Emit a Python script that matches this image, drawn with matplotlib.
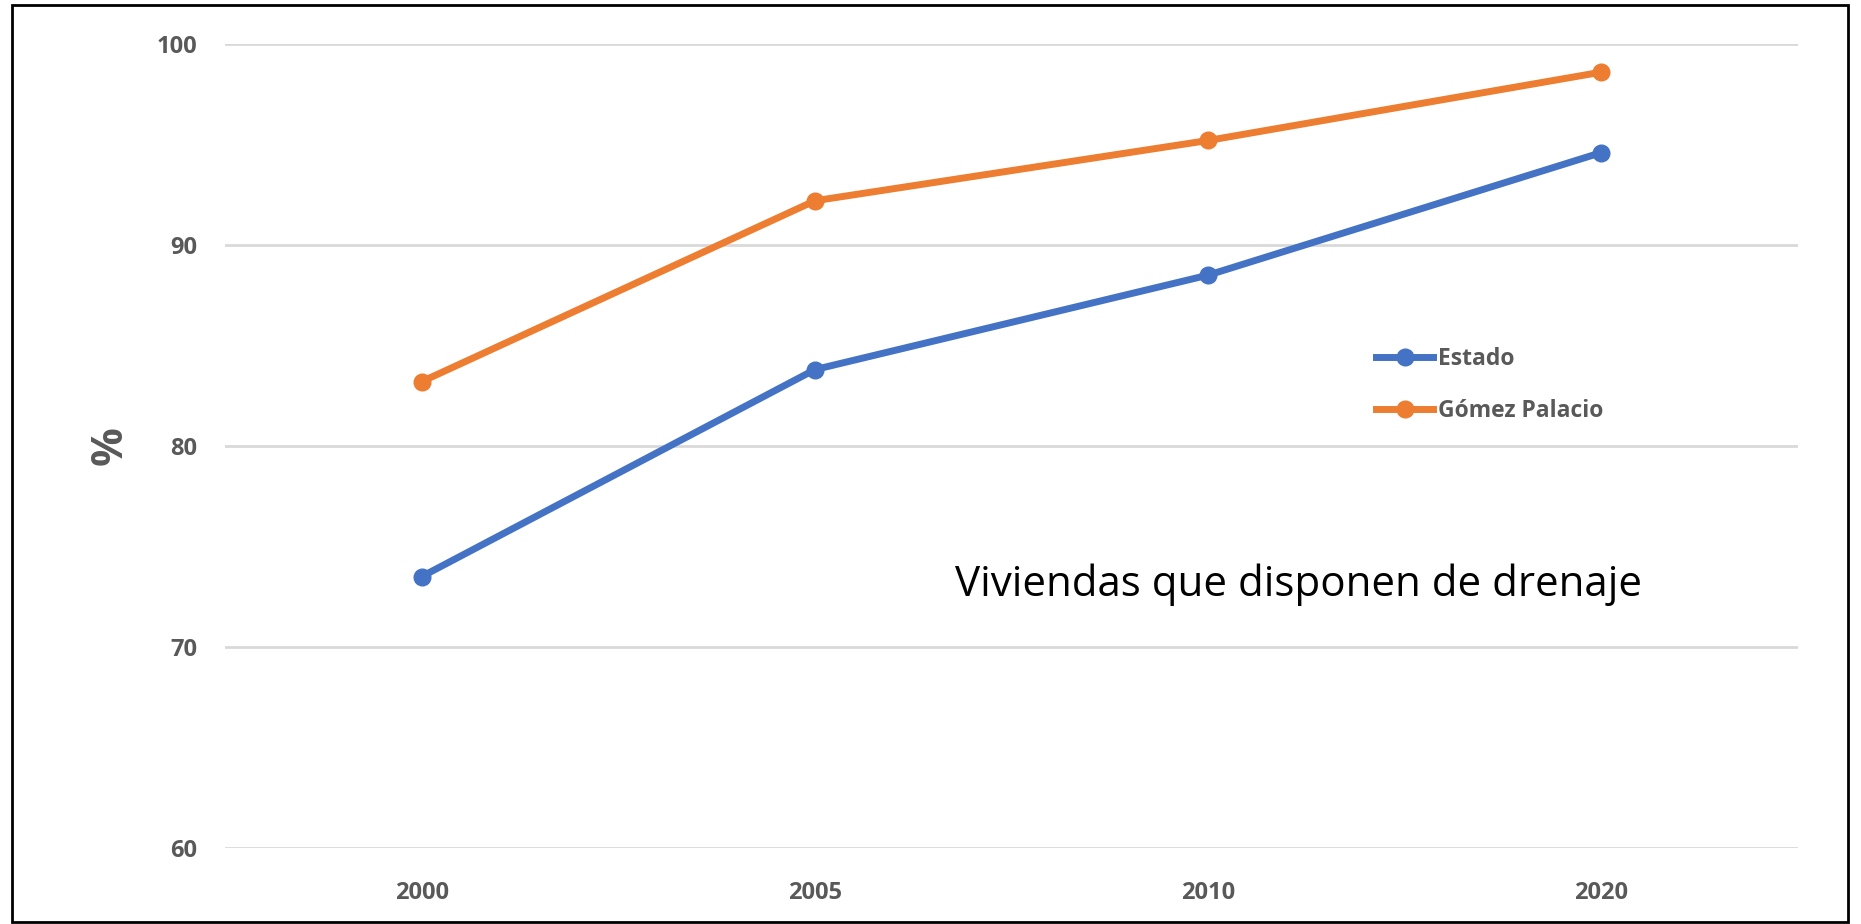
import matplotlib.pyplot as plt
from matplotlib.patches import Rectangle

# datos
years = ["2000", "2005", "2010", "2020"]
estado = [73.5, 83.8, 88.5, 94.6]
gomez_palacio = [83.2, 92.2, 95.2, 98.6]
y_ticks = [60, 70, 80, 90, 100]

azul = "#4472C4"
naranja = "#ED7D31"
gris_txt = "#595959"

plt.rcParams["font.family"] = ["Open Sans", "DejaVu Sans"]

fig = plt.figure(figsize=(18.61, 9.24), dpi=100)
ax = fig.add_axes([0.1209, 0.0823, 0.8453, 0.8701])

x = range(len(years))
ax.plot(x, estado, color=azul, lw=5, marker="o", ms=12, label="Estado", zorder=3)
ax.plot(x, gomez_palacio, color=naranja, lw=5, marker="o", ms=12,
        label="Gómez Palacio", zorder=3)

ax.set_xlim(-0.5, len(years) - 0.5)
ax.set_ylim(60, 100)
ax.set_xticks(list(x))
ax.set_xticklabels(years)
ax.set_yticks(y_ticks)
ax.grid(axis="y", color="#D9D9D9", lw=2)
ax.set_axisbelow(True)
for s in ax.spines.values():
    s.set_visible(False)
ax.tick_params(length=0, labelsize=17, labelcolor=gris_txt, pad=20)
for lab in ax.get_xticklabels() + ax.get_yticklabels():
    lab.set_fontweight("bold")
ax.tick_params(axis="x", pad=24)

ax.set_ylabel("%", fontsize=31, fontweight="bold", color=gris_txt, labelpad=18)

leg = fig.legend(loc="center left", bbox_to_anchor=(0.7394, 0.5833), frameon=False,
                 handlelength=2.5, handletextpad=0.2, labelspacing=1.25,
                 borderpad=0, borderaxespad=0,
                 prop={"size": 16.5, "weight": "bold"})
for t in leg.get_texts():
    t.set_color(gris_txt)

fig.text(955 / 1861, 1 - 596 / 924, "Viviendas que disponen de drenaje",
         fontsize=30.3, color="black", va="baseline", ha="left")

# marco exterior
fig.patches.append(Rectangle((12 / 1861, 2 / 924), 1836 / 1861, 917 / 924,
                             transform=fig.transFigure, fill=False,
                             edgecolor="black", lw=2))

fig.savefig("out.png", dpi=100)
